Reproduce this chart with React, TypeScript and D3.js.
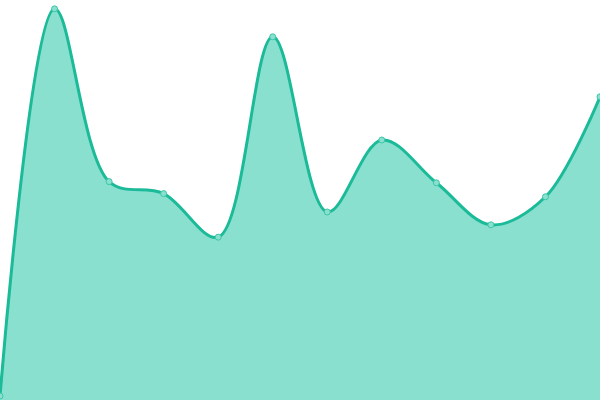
import React, { useRef, useEffect } from 'react';
import * as d3 from 'd3';

const labels = ['0', '1', '2', '3', '4', '5', '6', '7', '8', '9', '10', '11'];
const values = [1, 97.8, 54.6, 51.6, 40.7, 90.8, 47, 65, 54.3, 43.8, 50.8, 75.8];

const width = 600;
const height = 400;

const App: React.FC = () => {
    const ref = useRef<SVGSVGElement>(null);

    useEffect(() => {
        if (!ref.current) return;
        const svg = d3.select(ref.current);
        svg.selectAll("*").remove();

        const x = d3.scalePoint<string>().domain(labels).range([0, width]);
        const y = d3.scaleLinear().domain([0, 100]).range([height, 0]);

        const curve = d3.curveCatmullRom.alpha(0.5);

        const area = d3.area<number>()
            .x((d, i) => x(labels[i])!)
            .y0(height)
            .y1(d => y(d))
            .curve(curve);

        const line = d3.line<number>()
            .x((d, i) => x(labels[i])!)
            .y(d => y(d))
            .curve(curve);

        svg.append("path")
            .datum(values)
            .attr("fill", "#8ae0cf")
            .attr("d", area);

        svg.append("path")
            .datum(values)
            .attr("fill", "none")
            .attr("stroke", "#1bba98")
            .attr("stroke-width", 3)
            .attr("d", line);

        svg.selectAll("circle")
            .data(values)
            .enter()
            .append("circle")
            .attr("cx", (d, i) => x(labels[i])!)
            .attr("cy", d => y(d))
            .attr("r", 3)
            .attr("fill", "#8ae0cf")
            .attr("stroke", "#3dc6a8")
            .attr("stroke-width", 1);
    }, []);

    return (
        <svg ref={ref} width={width} height={height}
            style={{ position: 'absolute', left: 0, top: 0, display: 'block' }}></svg>
    );
};

export default App;
